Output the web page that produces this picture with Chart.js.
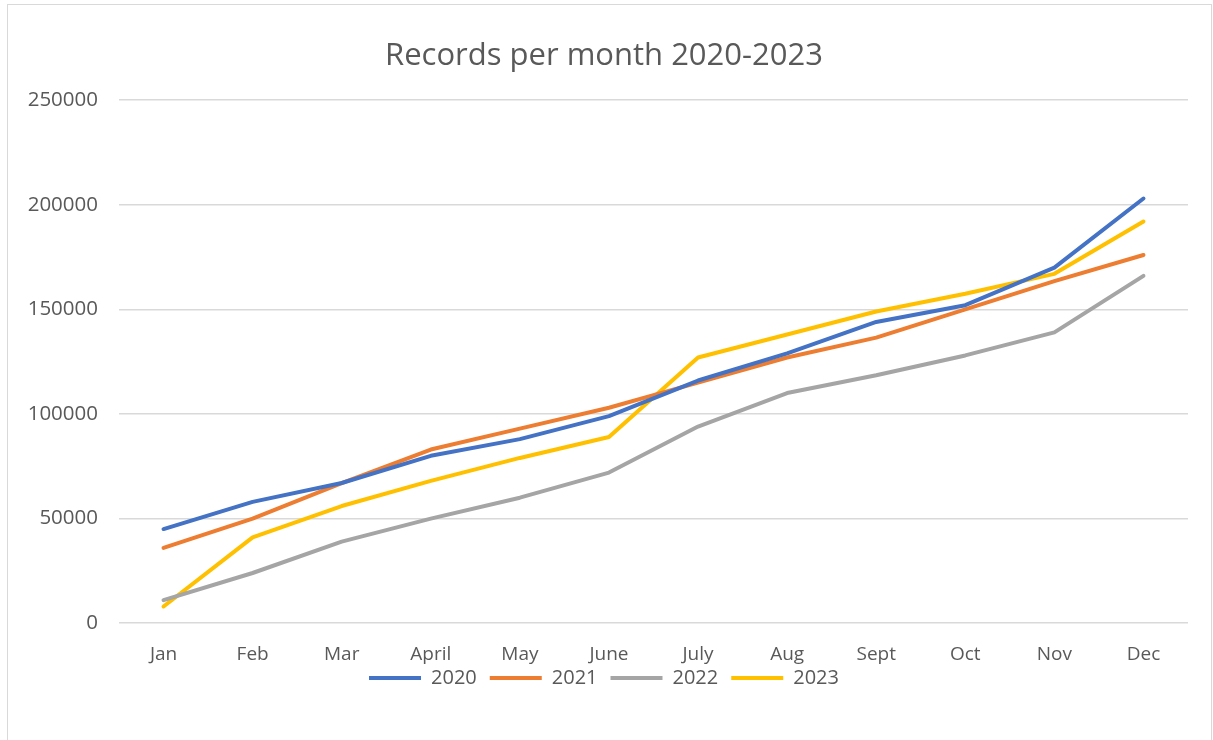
<!DOCTYPE html>
<html>
<head>
<meta charset="utf-8">
<script src="https://cdn.jsdelivr.net/npm/chart.js@4.4.1/dist/chart.umd.min.js"></script>
<style>
  html, body { margin: 0; padding: 0; background: #fff; }
  #frame { position: absolute; left: 7px; top: 4px; width: 1205px; height: 736px; border: 1px solid #d9d9d9; border-bottom: none; box-sizing: border-box; }
  #wrap { position: absolute; left: 0; top: 0; width: 1213px; height: 740px; }
</style>
</head>
<body>
<div id="frame"></div>
<div id="wrap"><canvas id="c" width="1213" height="740"></canvas></div>
<script>
const chartTitle = 'Records per month 2020-2023';
const months = ['Jan', 'Feb', 'Mar', 'April', 'May', 'June', 'July', 'Aug', 'Sept', 'Oct', 'Nov', 'Dec'];
const seriesNames = ['2020', '2021', '2022', '2023'];
const values2020 = [45000, 58000, 67000, 80000, 88000, 99000, 116000, 129000, 144000, 152000, 170000, 203000];
const values2021 = [36000, 50000, 67000, 83000, 93000, 103000, 115000, 127000, 136500, 150000, 163500, 176000];
const values2022 = [11000, 24000, 39000, 50000, 60000, 72000, 94000, 110000, 118500, 128000, 139000, 166000];
const values2023 = [8000, 41000, 56000, 68000, 79000, 89000, 127000, 138000, 149000, 157500, 167000, 192000];
const yTicks = [0, 50000, 100000, 150000, 200000, 250000];
const seriesColors = ['#4472C4', '#ED7D31', '#A5A5A5', '#FFC000'];

const allValues = [values2020, values2021, values2022, values2023];
const FONT = "'Open Sans', 'Liberation Sans', sans-serif";
const TEXT = '#595959';

// nudge the legend up so it sits just under the month labels
const legendNudge = {
  id: 'legendNudge',
  afterLayout(chart) {
    const lg = chart.legend;
    if (lg) { lg.top -= 31; lg.bottom -= 31; }
  }
};

new Chart(document.getElementById('c'), {
  type: 'line',
  data: {
    labels: months,
    datasets: seriesNames.map((name, i) => ({
      label: name,
      data: allValues[i],
      borderColor: seriesColors[i],
      backgroundColor: seriesColors[i],
      borderWidth: 4,
      pointRadius: 0,
      tension: 0,
      fill: false,
      borderCapStyle: 'round',
      borderJoinStyle: 'round'
    }))
  },
  plugins: [legendNudge],
  options: {
    responsive: false,
    animation: false,
    layout: { padding: { left: 20, right: 25, top: 0, bottom: 11 } },
    plugins: {
      title: {
        display: true,
        text: chartTitle,
        color: TEXT,
        font: { family: FONT, size: 31, weight: 'normal' },
        padding: { top: 38, bottom: 25 }
      },
      legend: {
        position: 'bottom',
        labels: {
          color: TEXT,
          font: { family: FONT, size: 20 },
          boxWidth: 52,
          boxHeight: 4,
          padding: 13,
          generateLabels: (chart) => Chart.defaults.plugins.legend.labels.generateLabels(chart).map(l => Object.assign(l, { lineWidth: 0 }))
        }
      },
      tooltip: { enabled: false }
    },
    scales: {
      x: {
        offset: true,
        grid: { display: false, drawTicks: false },
        border: { display: false },
        ticks: { color: TEXT, font: { family: FONT, size: 19 }, padding: 20, maxRotation: 0 }
      },
      y: {
        min: 0,
        max: 250000,
        afterBuildTicks: (s) => { s.ticks = yTicks.map(v => ({ value: v })); },
        grid: { color: '#d9d9d9', lineWidth: 1.5, drawTicks: false },
        border: { display: false },
        ticks: { color: TEXT, font: { family: FONT, size: 20.5 }, padding: 21, callback: (v) => String(v) },
        afterFit: (s) => { s.width = 99; }
      }
    }
  }
});
</script>
</body>
</html>
